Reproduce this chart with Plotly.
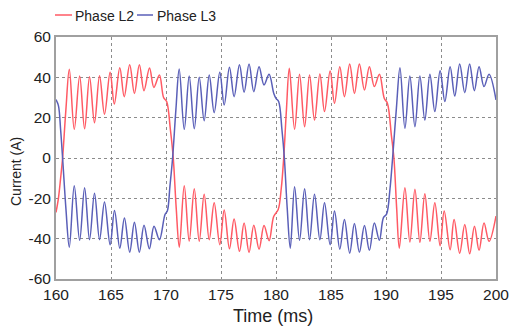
import plotly.graph_objects as go

# ---- data (time in ms, current in A) ----
t_l2 = [160.0, 160.22, 160.42, 160.6, 160.9,
        161.21, 161.66, 162.15, 162.6, 163.05, 163.5, 163.96, 164.41, 164.92, 165.3,
        165.8, 166.2, 166.7, 167.13, 167.58, 168.0, 168.5, 168.9, 169.4, 169.78,
        170.06, 170.4, 170.66, 170.93,
        171.21, 171.66, 172.11, 172.57, 173.02, 173.47, 173.93, 174.38, 174.89, 175.29,
        175.77, 176.19, 176.68, 177.1, 177.55, 177.98, 178.46, 178.91, 179.37, 179.79,
        180.2, 180.48, 180.7, 180.95,
        181.21, 181.69, 182.14, 182.6, 183.05, 183.5, 183.99, 184.41, 184.92, 185.32,
        185.8, 186.22, 186.7, 187.13, 187.58, 188.04, 188.49, 188.94, 189.4, 189.85,
        190.12, 190.5, 190.72, 190.97,
        191.21, 191.72, 192.17, 192.63, 193.08, 193.53, 193.99, 194.44, 194.92, 195.29,
        195.83, 196.19, 196.7, 197.16, 197.61, 198.04, 198.46, 198.91, 199.37, 200.0]
i_l2 = [-27, -20, -10, 0, 24,
        44, 14.2, 40.7, 14.5, 40.3, 17.5, 40.8, 21.7, 42.5, 26.8,
        44.8, 30.4, 46.3, 32, 46.3, 33.4, 44.6, 35, 41.2, 30,
        28, 14, 0, -25,
        -44.2, -13.8, -41.2, -15.2, -41.3, -18, -40.5, -22.2, -43, -25.8,
        -45, -30.2, -46.3, -32.2, -46.8, -33.3, -45.2, -33.5, -41, -29,
        -25.5, -15, 0, 24,
        44.5, 14.2, 41.5, 15.5, 41.2, 18.8, 41.7, 23, 43.1, 27.1,
        45.3, 30.4, 46.6, 32, 46.6, 33.7, 45.3, 35.4, 41.5, 29.5,
        27.3, 10.7, 0, -25,
        -44.7, -14.7, -41.7, -15.5, -41.8, -17.7, -41.3, -22.2, -43.5, -26.3,
        -45.5, -30.5, -47.2, -33, -47.5, -33.8, -45.8, -32.2, -41.3, -28.8]

t_l3 = [160.0, 160.22, 160.42, 160.6, 160.9,
        161.21, 161.66, 162.15, 162.6, 163.05, 163.5, 163.96, 164.41, 164.92, 165.32,
        165.8, 166.22, 166.7, 167.13, 167.58, 168.0, 168.49, 168.91, 169.4, 169.91,
        170.12, 170.36, 170.6, 170.9,
        171.2, 171.66, 172.11, 172.57, 173.02, 173.47, 173.93, 174.38, 174.89, 175.29,
        175.77, 176.19, 176.68, 177.1, 177.55, 177.98, 178.46, 178.91, 179.37, 179.8,
        180.0, 180.24, 180.54, 180.76, 181.02,
        181.3, 181.69, 182.14, 182.6, 183.05, 183.5, 183.99, 184.41, 184.92, 185.32,
        185.8, 186.22, 186.7, 187.13, 187.58, 188.04, 188.49, 188.94, 189.4, 189.76,
        190.06, 190.36, 190.6, 190.95,
        191.27, 191.72, 192.17, 192.63, 193.08, 193.53, 193.99, 194.44, 194.92, 195.35,
        195.83, 196.25, 196.7, 197.16, 197.6, 198.03, 198.46, 198.91, 199.37, 200.0]
i_l3 = [29, 26, 14, 0, -25,
        -44.2, -13.8, -40.8, -14.7, -40.5, -17.5, -40.5, -21.8, -43, -26,
        -44.7, -29.7, -46.7, -31.8, -46.7, -33.3, -45, -33.8, -40.5, -28,
        -26.3, -13.8, 0, 24,
        44.1, 14.2, 40.7, 14.5, 40, 18.5, 41.2, 22.5, 42.5, 26.3,
        45, 30.4, 46.3, 32.6, 46.6, 32.9, 45.3, 36.2, 41.5, 32,
        29.6, 28, 14, 0, -25,
        -44.7, -14.2, -40.8, -15.2, -40.5, -18, -40.5, -22.2, -43, -26.3,
        -45.2, -30.5, -47.2, -32.5, -46.7, -33.5, -45.8, -32.2, -40.8, -29.7,
        -27.7, -15.5, 0, 25,
        44.8, 14.7, 40.7, 15.5, 40.7, 18.8, 41.5, 23, 43.3, 28,
        45.3, 30.7, 46.6, 32.4, 46.6, 33.4, 45.3, 35.4, 41.5, 28.8]

x_ticks = [160, 165, 170, 175, 180, 185, 190, 195, 200]
y_ticks = [-60, -40, -20, 0, 20, 40, 60]
x_tick_labels = ["160", "165", "170", "175", "180", "185", "190", "195", "200"]
y_tick_labels = ["-60", "-40", "-20", "0", "20", "40", "60"]
series_names = ["Phase L2", "Phase L3"]
series_colors = ["#ff5a64", "#5a5fb8"]

FONT = "Liberation Sans, Arial, sans-serif"

fig = go.Figure()
for t, v, name, col in [(t_l2, i_l2, series_names[0], series_colors[0]),
                        (t_l3, i_l3, series_names[1], series_colors[1])]:
    fig.add_trace(go.Scatter(x=t, y=v, mode="lines", name=name,
                             line=dict(color=col, width=1.5, shape="spline", smoothing=1.0),
                             showlegend=False))

# plot area: x 56..496 px, y 37..279 px
L, R, T, B = 56, 496, 37, 279
W, H = 510, 327
pw, ph = R - L, B - T
def px(x):
    return (x - L) / pw
def py(y):
    return (B - y) / ph

axis_style = dict(ticks="", tickfont=dict(size=15.5, color="#222222"),
                  showgrid=True, gridcolor="#8c8c8c", griddash="dot", gridwidth=1,
                  showline=True, linecolor="#a0a0a0", linewidth=2, mirror=True,
                  zeroline=False, automargin=False)

fig.update_layout(
    width=W, height=H, autosize=False,
    margin=dict(l=L, r=W - R, t=T, b=H - B, pad=0, autoexpand=False),
    paper_bgcolor="white", plot_bgcolor="white",
    font=dict(family=FONT, color="#222222"),
    xaxis=dict(range=[x_ticks[0], x_ticks[-1]], tickvals=x_ticks,
               ticktext=x_tick_labels, **axis_style),
    yaxis=dict(range=[y_ticks[0], y_ticks[-1]], tickvals=y_ticks,
               ticktext=y_tick_labels, **axis_style),
)

# axis titles
fig.add_annotation(text="Time (ms)", xref="paper", yref="paper",
                   x=px(273), y=py(316), xanchor="center", yanchor="middle",
                   showarrow=False, font=dict(size=18, family=FONT, color="#222222"))
fig.add_annotation(text="Current (A)", xref="paper", yref="paper",
                   x=px(16), y=py(172), xanchor="center", yanchor="middle",
                   textangle=-90, showarrow=False,
                   font=dict(size=14, family=FONT, color="#222222"))

# legend (drawn manually to match compact line samples)
leg = [(55, 72, 73), (137, 153, 155)]
for (x0, x1, xt), name, col in zip(leg, series_names, series_colors):
    fig.add_shape(type="line", xref="paper", yref="paper",
                  x0=px(x0), x1=px(x1), y0=py(15), y1=py(15),
                  line=dict(color=col, width=1.5))
    fig.add_annotation(text=name, xref="paper", yref="paper",
                       x=px(xt), y=py(16), xanchor="left", yanchor="middle",
                       showarrow=False, font=dict(size=14, family=FONT, color="#222222"))

fig.write_html("out.html", config={"displayModeBar": False},
               post_script="document.body.style.margin='0';document.body.style.padding='0';")
